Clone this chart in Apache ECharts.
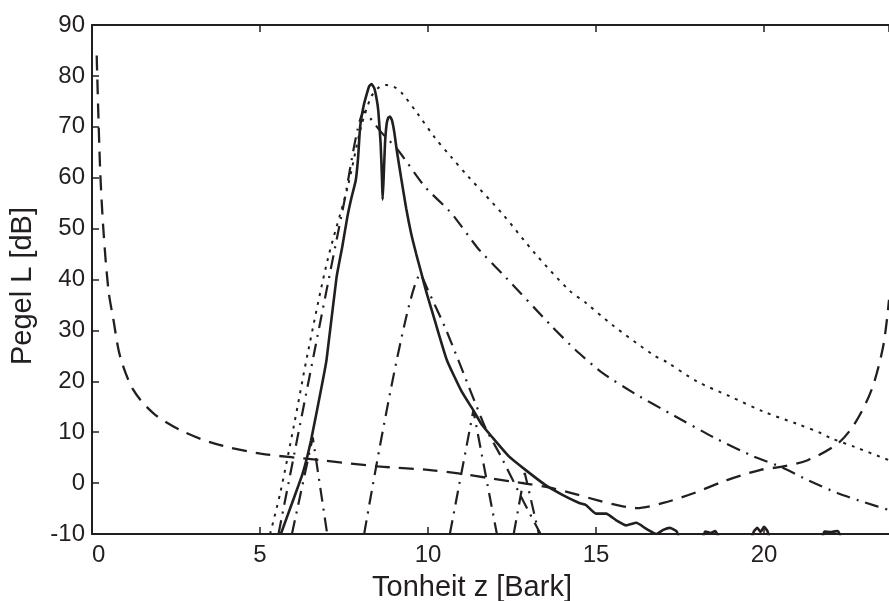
<!DOCTYPE html>
<html>
<head>
<meta charset="utf-8">
<script src="https://cdn.jsdelivr.net/npm/echarts@6/dist/echarts.min.js"></script>
<style>
html,body{margin:0;padding:0;background:#fff;}
#chart{width:889px;height:601px;}
</style>
</head>
<body>
<div id="chart"></div>
<script>
// Axis settings
const xTitle = 'Tonheit z [Bark]';
const yTitle = 'Pegel L [dB]';
const xMin = 0, xMax = 23.72, xStep = 5;
const yMin = -10, yMax = 90, yStep = 10;

// Solid: excitation / spectrum (Bark, dB)
const solidCurve = [
  [5.62,-10],[5.95,-4],[6.27,1.9],[6.52,8.4],[6.87,20.2],[6.98,24.2],[7.28,40.5],[7.45,46.5],
  [7.6,52.3],[7.72,56],[7.85,59.5],[7.92,64],[7.98,70],[8.08,74],[8.18,76.5],[8.25,78],
  [8.32,78.4],[8.4,77.6],[8.47,75.5],[8.52,73.2],[8.59,66.7],[8.63,60],[8.65,55.7],[8.68,60],
  [8.72,66.7],[8.77,70.6],[8.82,71.8],[8.87,72],[8.93,71.2],[9.0,68.8],[9.07,65.4],[9.2,60],
  [9.35,54],[9.5,49],[9.65,45],[9.8,41.3],[9.96,37.3],[10.2,32],[10.56,24.2],[11.0,18],[11.35,14.3],
  [11.6,11.5],[11.9,9.1],[12.4,5.3],[12.9,2.6],[13.5,-0.4],[14.0,-2.3],[14.5,-3.9],[14.7,-4.3],
  [15.0,-6],[15.3,-6],[15.6,-7.3],[15.9,-8.3],[16.2,-7.8],[16.5,-9],[16.8,-10],[17.0,-9.2],
  [17.2,-8.8],[17.4,-9.5],[17.5,-11],[18.15,-11],[18.25,-9.5],[18.4,-9.8],[18.55,-9.4],[18.7,-11],
  [19.6,-11],[19.7,-9.5],[19.8,-8.8],[19.9,-9.6],[20.0,-8.6],[20.1,-9.4],[20.2,-11],
  [21.7,-11],[21.8,-9.5],[22.0,-9.6],[22.2,-9.4],[22.3,-11]
];

// Dotted: global masking threshold
const dottedCurve = [
  [5.3,-10],[5.6,-2],[6.0,11],[6.42,25.5],[7.01,43.8],[7.61,58.2],[8.01,70],[8.31,75.9],
  [8.55,77.8],[8.76,78.2],[9.0,77.8],[9.21,76.7],[9.7,72.5],[10.2,67.9],[10.7,64],[11.2,60.2],
  [12.2,53],[13.2,45],[14.2,37.9],[14.7,35.4],[15.5,31],[16.7,25.2],[17.1,23.8],[18.0,20],
  [19.0,17],[20.0,14],[21.0,11.6],[21.7,9.8],[22.0,8.8],[22.7,7.1],[23.72,4.5]
];

// Large dash-dot: masking threshold of the main masker
const bigMaskCurve = [
  [5.55,-10],[6.61,25.5],[7.5,55],[8.1,73],[8.6,69],[9.11,65.4],[9.91,58.2],[10.7,53],
  [11.5,46],[12.2,41.2],[13.7,30.7],[14.4,26.1],[15.2,21.6],[16.2,17.4],[17.2,13.7],
  [18.5,9],[19.7,5.2],[20.5,3.2],[21.3,0.6],[22.2,-2],[23.0,-3.8],[23.72,-5.3]
];

// Small dash-dot masking triangles
const maskA = [[5.95,-10],[6.57,9],[7.0,-10]];
const maskB = [[8.1,-10],[9.78,41],[10.0,37.9],[10.5,30.7],[10.9,24.2],[11.7,11],[12.15,5.5],[12.85,-3.7],[13.35,-10]];
const maskC = [[10.65,-10],[11.35,14.3],[12.05,-10]];
const maskD = [[12.55,-10],[12.88,2],[13.3,-10]];

// Dashed: threshold in quiet
const quietCurve = [
  [0.14,84],[0.24,62],[0.34,49.7],[0.49,37.9],[0.64,32],[0.84,24.8],[1.23,18.3],[1.83,13.7],
  [2.63,10.4],[3.63,7.8],[5.02,5.8],[6.82,4.5],[8.51,3.3],[10.0,2.6],[10.9,1.9],[11.9,0.9],
  [12.9,-0.1],[13.7,-1],[14.3,-2],[15.0,-3.3],[15.6,-4.3],[16.2,-4.9],[17.0,-3.9],[17.9,-2],
  [18.9,0.6],[19.9,2.6],[20.5,3.2],[21.3,4.5],[22.2,7.8],[22.7,11.7],[23.2,18.3],[23.55,27],
  [23.72,36]
];

const INK = '#231f20';
const FONT = '"Liberation Sans", Arial, Helvetica, sans-serif';

function lineSeries(name, data, type, width, smooth) {
  return {
    name: name, type: 'line', data: data, symbol: 'none', smooth: smooth || false,
    clip: true, animation: false,
    lineStyle: { color: INK, width: width, type: type, cap: 'butt' }
  };
}

const dashDot = [14, 7, 2, 7];

const chart = echarts.init(document.getElementById('chart'), null, { renderer: 'canvas' });
chart.setOption({
  animation: false,
  backgroundColor: '#ffffff',
  grid: { left: 92, top: 25, right: 0, bottom: 67, containLabel: false },
  xAxis: [{
    type: 'value', min: xMin, max: xMax, interval: xStep, position: 'bottom',
    axisLine: { show: true, onZero: false, lineStyle: { color: INK, width: 2 } },
    axisTick: { show: true, inside: true, length: 7, lineStyle: { color: INK, width: 1.5 } },
    axisLabel: { show: true, margin: 9, fontSize: 24, color: INK, fontFamily: FONT,
                 showMaxLabel: false, alignMinLabel: 'left' },
    splitLine: { show: false }
  }, {
    type: 'value', min: xMin, max: xMax, interval: xStep, position: 'top',
    axisLine: { show: true, onZero: false, lineStyle: { color: INK, width: 2 } },
    axisTick: { show: true, inside: true, length: 7, lineStyle: { color: INK, width: 1.5 } },
    axisLabel: { show: false },
    splitLine: { show: false }
  }],
  yAxis: [{
    type: 'value', min: yMin, max: yMax, interval: yStep, position: 'left',
    axisLine: { show: true, onZero: false, lineStyle: { color: INK, width: 2 } },
    axisTick: { show: true, inside: true, length: 7, lineStyle: { color: INK, width: 1.5 } },
    axisLabel: { show: true, margin: 7, fontSize: 24, color: INK, fontFamily: FONT },
    splitLine: { show: false }
  }],
  graphic: [{
    type: 'text', x: 472, y: 588,
    style: { text: xTitle, fill: INK, font: '29px ' + FONT, align: 'center', verticalAlign: 'middle' }
  }, {
    type: 'text', x: 23, y: 286, rotation: Math.PI / 2,
    style: { text: yTitle, fill: INK, font: '29px ' + FONT, align: 'center', verticalAlign: 'middle' }
  }],
  series: [
    lineSeries('Schwelle in Ruhe', quietCurve, [15, 9], 2.3, 0.3),
    lineSeries('Mithörschwelle gesamt', dottedCurve, [3, 6], 2, 0.3),
    lineSeries('Maskierung Hauptton', bigMaskCurve, dashDot, 2.2, 0.2),
    lineSeries('Maskierung A', maskA, dashDot, 2.2),
    lineSeries('Maskierung B', maskB, dashDot, 2.2, 0.2),
    lineSeries('Maskierung C', maskC, dashDot, 2.2),
    lineSeries('Maskierung D', maskD, dashDot, 2.2),
    lineSeries('Anregung', solidCurve, 'solid', 2.6, 0.15)
  ]
});
</script>
</body>
</html>
